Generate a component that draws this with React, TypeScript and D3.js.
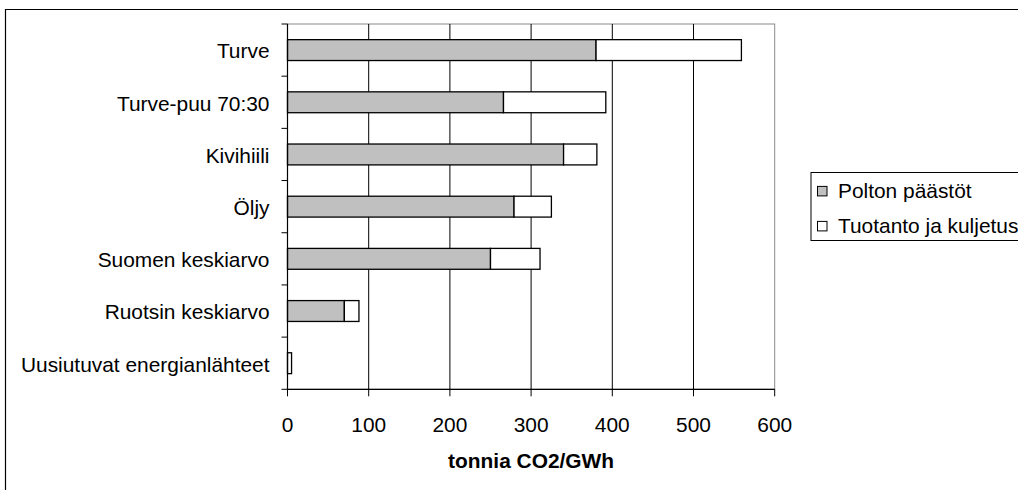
import * as d3 from "d3";

const categories = [
  "Turve",
  "Turve-puu 70:30",
  "Kivihiili",
  "Öljy",
  "Suomen keskiarvo",
  "Ruotsin keskiarvo",
  "Uusiutuvat energianlähteet",
];
const poltonPaastot = [380, 266, 340, 279, 250, 70, 0];
const tuotantoJaKuljetus = [179, 126, 41, 46, 61, 18, 5];
const seriesNames = ["Polton päästöt", "Tuotanto ja kuljetus"];
const seriesFills = ["#c0c0c0", "#ffffff"];
const xTicks = [0, 100, 200, 300, 400, 500, 600];
const xTitle = "tonnia CO2/GWh";

const W = 1018;
const H = 490;
const plot = { left: 287.5, right: 774.7, top: 24, bottom: 389.3 };
const FONT = "'Liberation Sans', Arial, sans-serif";
const FS = 20.9;

export default function App() {
  const x = d3.scaleLinear().domain([0, 600]).range([plot.left, plot.right]);
  const y = d3
    .scaleBand()
    .domain(categories)
    .range([plot.top, plot.bottom])
    .paddingInner(0.6)
    .paddingOuter(0.3);
  const step = y.step();
  const bh = y.bandwidth();

  // stack the two series per category
  const stacked = categories.map((c, i) => {
    const a = poltonPaastot[i];
    const b = tuotantoJaKuljetus[i];
    return { c, segs: [[0, a], [a, a + b]] };
  });

  const bandEdges = d3.range(categories.length + 1).map((i) => plot.top + i * step);

  return (
    <svg
      width={W}
      height={H}
      style={{ position: "absolute", left: 0, top: 0, background: "#fff" }}
      fontFamily={FONT}
    >
      {/* outer frame, cut off at right and bottom */}
      <path d={`M5.5,${H + 2} V9.5 H${W + 2}`} fill="none" stroke="#000" strokeWidth={1.2} />

      {/* plot border (gray) */}
      <rect
        x={plot.left}
        y={plot.top}
        width={plot.right - plot.left}
        height={plot.bottom - plot.top}
        fill="none"
        stroke="#8a8a8a"
        strokeWidth={1}
      />

      {/* gridlines */}
      {xTicks.slice(1, -1).map((t) => (
        <line
          key={t}
          x1={x(t)}
          x2={x(t)}
          y1={plot.top}
          y2={plot.bottom}
          stroke="#000"
          strokeWidth={1}
        />
      ))}

      {/* bars */}
      {stacked.map((d) =>
        d.segs.map(([s0, s1], j) =>
          s1 - s0 > 0 ? (
            <rect
              key={d.c + j}
              x={x(s0)}
              y={y(d.c)}
              width={x(s1) - x(s0)}
              height={bh}
              fill={seriesFills[j]}
              stroke="#000"
              strokeWidth={1.3}
            />
          ) : null,
        ),
      )}

      {/* y axis */}
      <line x1={plot.left} x2={plot.left} y1={plot.top} y2={plot.bottom} stroke="#000" strokeWidth={1.2} />
      {bandEdges.map((yy, i) => (
        <line key={i} x1={plot.left - 6} x2={plot.left} y1={yy} y2={yy} stroke="#000" strokeWidth={1} />
      ))}
      {categories.map((c) => (
        <text
          key={c}
          x={plot.left - 18}
          y={(y(c) ?? 0) + bh / 2 + 8.3}
          textAnchor="end"
          fontSize={FS}
          fill="#000"
        >
          {c}
        </text>
      ))}

      {/* x axis */}
      <line x1={plot.left} x2={plot.right} y1={plot.bottom} y2={plot.bottom} stroke="#000" strokeWidth={1.2} />
      {xTicks.map((t) => (
        <g key={t}>
          <line x1={x(t)} x2={x(t)} y1={plot.bottom} y2={plot.bottom + 7} stroke="#000" strokeWidth={1} />
          <text x={x(t)} y={431.5} textAnchor="middle" fontSize={FS} fill="#000">
            {t}
          </text>
        </g>
      ))}
      <text
        x={(plot.left + plot.right) / 2}
        y={468}
        textAnchor="middle"
        fontSize={FS}
        fontWeight="bold"
        fill="#000"
      >
        {xTitle}
      </text>

      {/* legend */}
      <rect x={811} y={172.5} width={W} height={68} fill="#fff" stroke="#000" strokeWidth={1} />
      {seriesNames.map((n, i) => {
        const cy = 191.2 + i * 35;
        return (
          <g key={n}>
            <rect x={817.5} y={cy - 4.8} width={9.5} height={9.5} fill={seriesFills[i]} stroke="#000" strokeWidth={1} />
            <text x={838} y={cy + 7.2} fontSize={FS} fill="#000">
              {n}
            </text>
          </g>
        );
      })}
    </svg>
  );
}
